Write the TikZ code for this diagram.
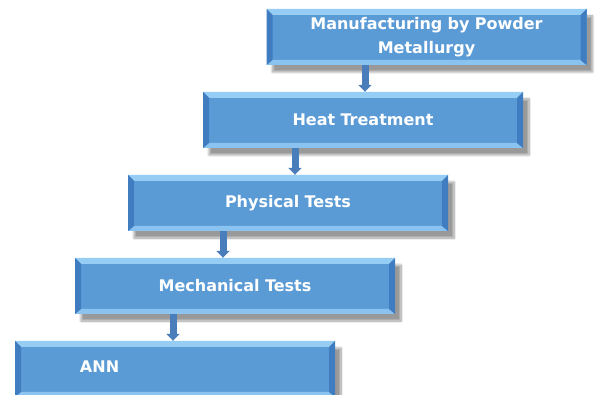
\documentclass[tikz,border=0pt]{standalone}
\usepackage{fontspec}
\setmainfont{DejaVu Sans}
\usetikzlibrary{arrows.meta, shadows.blur}
\definecolor{boxblue}{RGB}{91,155,213}
\definecolor{bevellight}{RGB}{150,205,245}
\definecolor{beveldark}{RGB}{64,124,192}
\definecolor{arrowblue}{RGB}{74,126,187}
\tikzstyle{stepbox} = [rectangle, minimum width=320pt, minimum height=56pt, inner sep=0pt,
text width=300pt, align=center, text=white, fill=boxblue,
font=\bfseries\fontsize{16}{24}\selectfont,
blur shadow={shadow xshift=6pt, shadow yshift=-7pt, shadow opacity=40, shadow blur steps=10},
path picture={
  \fill[bevellight] (path picture bounding box.north west) -- (path picture bounding box.north east)
    -- ([shift={(-6pt,-6pt)}]path picture bounding box.north east) -- ([shift={(6pt,-6pt)}]path picture bounding box.north west) -- cycle;
  \fill[bevellight!80!boxblue] (path picture bounding box.south west) -- (path picture bounding box.south east)
    -- ([shift={(-6pt,5pt)}]path picture bounding box.south east) -- ([shift={(6pt,5pt)}]path picture bounding box.south west) -- cycle;
  \fill[beveldark] (path picture bounding box.north west) -- ([shift={(6pt,-6pt)}]path picture bounding box.north west)
    -- ([shift={(6pt,5pt)}]path picture bounding box.south west) -- (path picture bounding box.south west) -- cycle;
  \fill[beveldark] (path picture bounding box.north east) -- ([shift={(-6pt,-6pt)}]path picture bounding box.north east)
    -- ([shift={(-6pt,5pt)}]path picture bounding box.south east) -- (path picture bounding box.south east) -- cycle;
}]
\tikzstyle{arrow} = [arrowblue, line width=7pt, -{Triangle[width=13pt,length=7pt]}]

\begin{document}
\begin{tikzpicture}[node distance=83pt]
\useasboundingbox (0,0) rectangle (595pt,-395pt);

\node (powder) [stepbox] at (426.5pt,-37pt) {Manufacturing by Powder\\Metallurgy};
\node (heat) [stepbox, below of=powder, xshift=-63.5pt] {Heat Treatment};
\node (phys) [stepbox, below of=heat, xshift=-75pt] {Physical Tests};
\node (mech) [stepbox, below of=phys, xshift=-53pt] {Mechanical Tests};
\node (ann) [stepbox, below of=mech, xshift=-60pt, text width=320pt, align=left] {\hspace*{65pt}\raisebox{5pt}{ANN}};

\draw [arrow] ([xshift=2pt]heat.north |- powder.south) -- ([xshift=2pt]heat.north);
\draw [arrow] ([xshift=7pt]phys.north |- heat.south) -- ([xshift=7pt]phys.north);
\draw [arrow] ([xshift=-12pt]mech.north |- phys.south) -- ([xshift=-12pt]mech.north);
\draw [arrow] ([xshift=-2pt]ann.north |- mech.south) -- ([xshift=-2pt]ann.north);

\end{tikzpicture}
\end{document}
